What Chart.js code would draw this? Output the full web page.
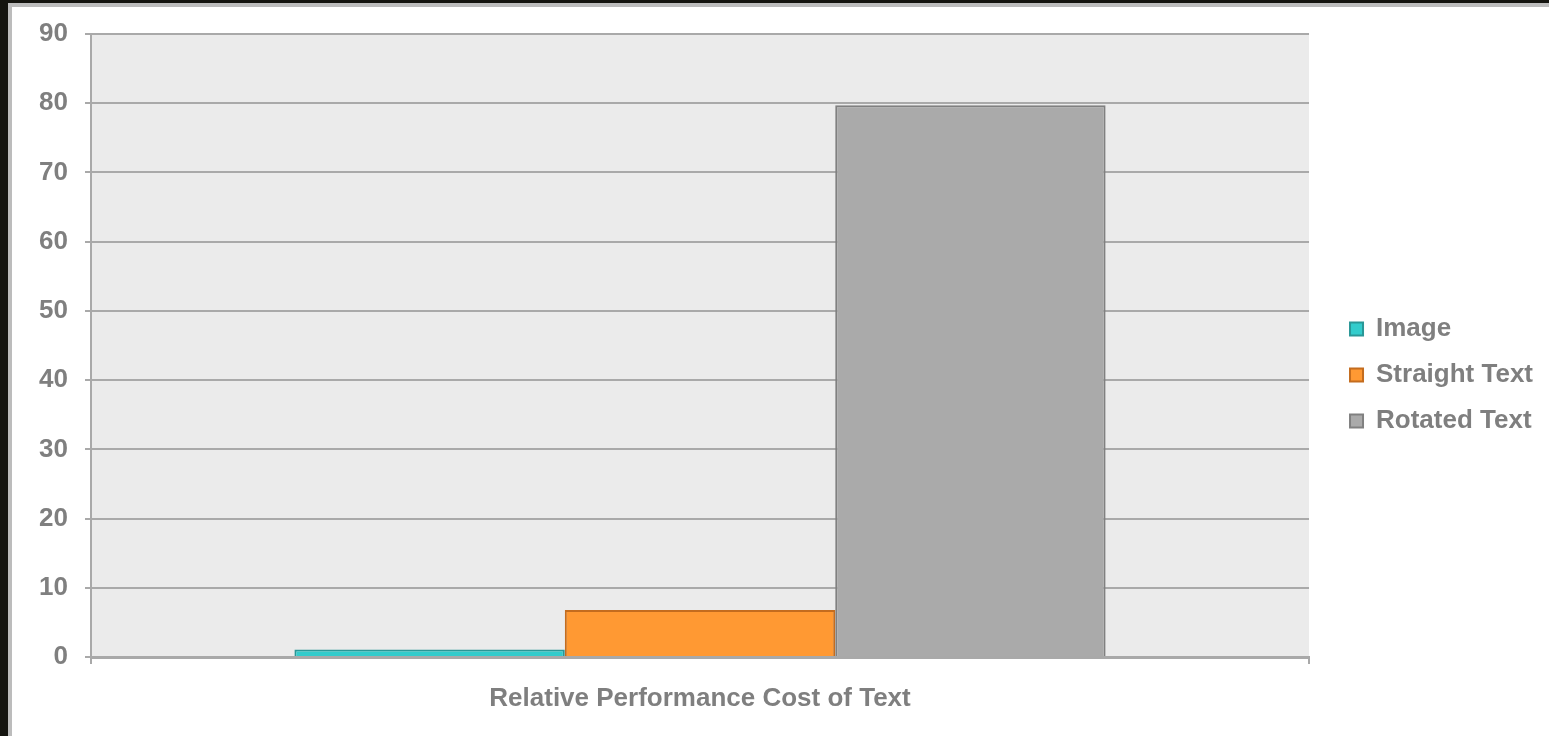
<!DOCTYPE html>
<html>
<head>
<meta charset="utf-8">
<title>Relative Performance Cost of Text</title>
<script src="https://cdn.jsdelivr.net/npm/chart.js@4/dist/chart.umd.min.js"></script>
<style>
  html, body { margin: 0; padding: 0; }
  body {
    width: 1549px;
    height: 736px;
    overflow: hidden;
    background: #14140f;
    position: relative;
  }
  .frame {
    position: absolute;
    left: 8px;
    top: 3px;
    right: 0;
    bottom: 0;
    background: #fff;
    border-left: 4px solid #bcbcbc;
    border-top: 4px solid #bcbcbc;
  }
  .frame canvas { display: block; }
</style>
</head>
<body>
<div class="frame">
  <canvas id="costChart" width="1537" height="729"></canvas>
</div>
<script>
const categories = ["Relative Performance Cost of Text"];
const seriesNames = ["Image", "Straight Text", "Rotated Text"];
const seriesValues = [[1.1], [6.8], [79.7]];
const fills = ["#33cccc", "#ff9933", "#aaaaaa"];
const edges = ["#2a9797", "#c46c1e", "#808080"];
const yTicks = [0, 10, 20, 30, 40, 50, 60, 70, 80, 90];

const textGrey = "#7f7f7f";
const lineGrey = "#a9a9a9";
const labelFont = { family: "'Liberation Sans', Arial, sans-serif", size: 26, weight: "bold" };

// grey fill behind the bars
const plotBackground = {
  id: "plotBackground",
  beforeDraw(chart) {
    const { ctx, chartArea: a } = chart;
    ctx.save();
    ctx.fillStyle = "#ebebeb";
    ctx.fillRect(a.left, a.top, a.right - a.left, a.bottom - a.top);
    ctx.restore();
  }
};

const datasets = seriesNames.map((name, i) => ({
  label: name,
  data: seriesValues[i],
  backgroundColor: fills[i],
  borderColor: edges[i],
  borderWidth: 2,
  borderSkipped: "bottom",
  categoryPercentage: 0.666,
  barPercentage: 1.0
}));

Chart.defaults.font = labelFont;
Chart.defaults.color = textGrey;

new Chart(document.getElementById("costChart"), {
  type: "bar",
  data: { labels: categories, datasets: datasets },
  plugins: [plotBackground],
  options: {
    responsive: false,
    animation: false,
    layout: { padding: { top: 27, right: 6, bottom: 20, left: 0 } },
    plugins: {
      tooltip: { enabled: false },
      legend: {
        position: "right",
        labels: {
          boxWidth: 13,
          boxHeight: 13,
          padding: 20,
          font: labelFont,
          color: textGrey
        }
      }
    },
    scales: {
      x: {
        afterFit(scale) { scale.height = 59; },
        grid: {
          offset: true,
          drawOnChartArea: false,
          color: lineGrey,
          lineWidth: 2,
          tickLength: 7
        },
        border: { color: lineGrey, width: 3 },
        ticks: { padding: 19, font: labelFont, color: textGrey }
      },
      y: {
        min: 0,
        max: 90,
        afterFit(scale) {
          scale.width = 79;
          // let the layout padding alone set the top of the plot
          scale.paddingTop = 0;
          scale.paddingBottom = 0;
        },
        afterBuildTicks(scale) { scale.ticks = yTicks.map(v => ({ value: v })); },
        grid: { color: lineGrey, lineWidth: 2, tickLength: 6 },
        border: { color: lineGrey, width: 2 },
        ticks: { padding: 17, font: labelFont, color: textGrey }
      },
      spacer: {
        position: "right",
        display: true,
        afterFit(scale) { scale.width = 21; },
        grid: { display: false },
        border: { display: false },
        ticks: { display: false }
      }
    }
  }
});
</script>
</body>
</html>
